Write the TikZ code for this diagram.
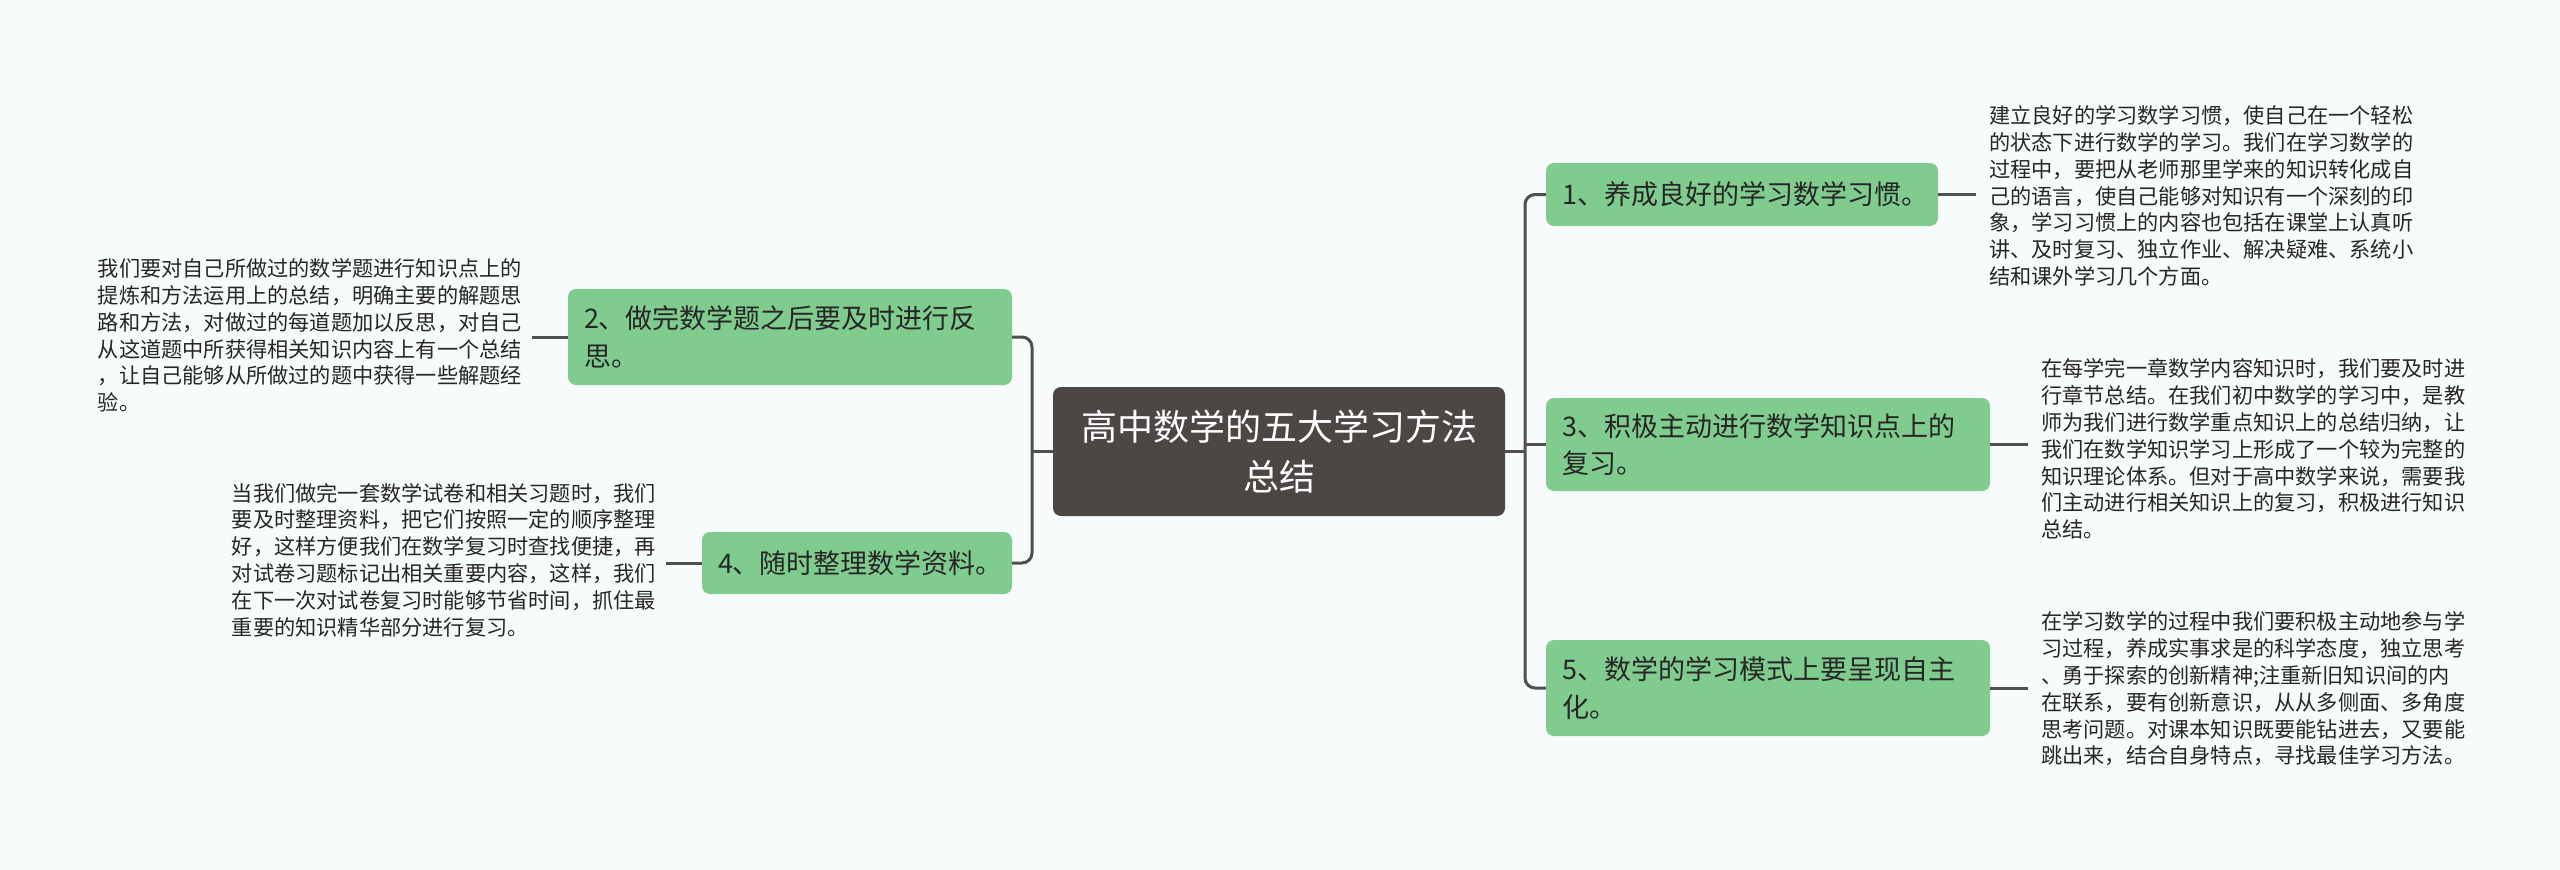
\documentclass[tikz,border=0pt]{standalone}
\usepackage{fontspec}
\setmainfont{Noto Sans CJK SC}
\definecolor{bg}{HTML}{F7FBFC}
\definecolor{boxgreen}{HTML}{80CC8F}
\definecolor{darkc}{HTML}{4C4645}
\definecolor{linec}{HTML}{505050}
\definecolor{txt}{HTML}{262626}
\begin{document}
\begin{tikzpicture}[x=1pt,y=-1pt,
  conn/.style={draw=linec, line width=3pt, rounded corners=10pt},
  mainbox/.style={fill=boxgreen, rounded corners=8pt, inner xsep=16pt, inner ysep=0pt, align=left, font=\fontsize{27}{37.5}\selectfont, text=txt},
  detail/.style={inner sep=0pt, align=left, font=\fontsize{21.2}{26.8}\selectfont, text=txt},
  centerbox/.style={fill=darkc, rounded corners=8pt, inner sep=0pt, text=white, align=center, font=\fontsize{36}{50}\selectfont}
]
\fill[bg] (0,0) rectangle (2560,870);
\useasboundingbox (0,0) rectangle (2560,870);

\node[centerbox, minimum width=452pt, minimum height=129pt] (c) at (1279,451.5) {高中数学的五大学习方法\\总结};

\node[mainbox, text width=412pt, minimum height=96pt] (b2) at (790,337) {2、做完数学题之后要及时进行反\\思。};
\node[mainbox, text width=278pt, minimum height=62pt] (b4) at (857,563) {4、随时整理数学资料。};
\node[mainbox, text width=360pt, minimum height=63pt] (b1) at (1742,194.5) {1、养成良好的学习数学习惯。};
\node[mainbox, text width=412pt, minimum height=93pt] (b3) at (1768,444.5) {3、积极主动进行数学知识点上的\\复习。};
\node[mainbox, text width=412pt, minimum height=96pt] (b5) at (1768,688) {5、数学的学习模式上要呈现自主\\化。};

\coordinate (tl) at (1032,451.5);
\coordinate (tr) at (1525,451.5);

\draw[conn] (b2.east) -- (b2.east -| tl) -- (b4.east -| tl) -- (b4.east);
\draw[conn] (c.west) -- (c.west -| tl);
\draw[conn] (b1.west) -- (b1.west -| tr) -- (b5.west -| tr) -- (b5.west);
\draw[conn] (c.east) -- (c.east -| tr);
\draw[conn] (b3.west -| tr) -- (b3.west);

\node[detail, anchor=west] (d1) at (1989,196) {建立良好的学习数学习惯，使自己在一个轻松\\的状态下进行数学的学习。我们在学习数学的\\过程中，要把从老师那里学来的知识转化成自\\己的语言，使自己能够对知识有一个深刻的印\\象，学习习惯上的内容也包括在课堂上认真听\\讲、及时复习、独立作业、解决疑难、系统小\\结和课外学习几个方面。};
\node[detail, anchor=west] (d3) at (2041,449) {在每学完一章数学内容知识时，我们要及时进\\行章节总结。在我们初中数学的学习中，是教\\师为我们进行数学重点知识上的总结归纳，让\\我们在数学知识学习上形成了一个较为完整的\\知识理论体系。但对于高中数学来说，需要我\\们主动进行相关知识上的复习，积极进行知识\\总结。};
\node[detail, anchor=west] (d5) at (2041,689) {在学习数学的过程中我们要积极主动地参与学\\习过程，养成实事求是的科学态度，独立思考\\、勇于探索的创新精神;注重新旧知识间的内\\在联系，要有创新意识，从从多侧面、多角度\\思考问题。对课本知识既要能钻进去，又要能\\跳出来，结合自身特点，寻找最佳学习方法。};
\node[detail, anchor=east] (d2) at (522,335.5) {我们要对自己所做过的数学题进行知识点上的\\提炼和方法运用上的总结，明确主要的解题思\\路和方法，对做过的每道题加以反思，对自己\\从这道题中所获得相关知识内容上有一个总结\\，让自己能够从所做过的题中获得一些解题经\\验。};
\node[detail, anchor=east] (d4) at (656,560) {当我们做完一套数学试卷和相关习题时，我们\\要及时整理资料，把它们按照一定的顺序整理\\好，这样方便我们在数学复习时查找便捷，再\\对试卷习题标记出相关重要内容，这样，我们\\在下一次对试卷复习时能够节省时间，抓住最\\重要的知识精华部分进行复习。};

\draw[conn] (b1.east) -- ([xshift=-13pt]d1.west |- b1.east);
\draw[conn] (b3.east) -- ([xshift=-13pt]d3.west |- b3.east);
\draw[conn] (b5.east) -- ([xshift=-13pt]d5.west |- b5.east);
\draw[conn] (b2.west) -- ([xshift=10pt]d2.east |- b2.west);
\draw[conn] (b4.west) -- ([xshift=10pt]d4.east |- b4.west);
\end{tikzpicture}
\end{document}
